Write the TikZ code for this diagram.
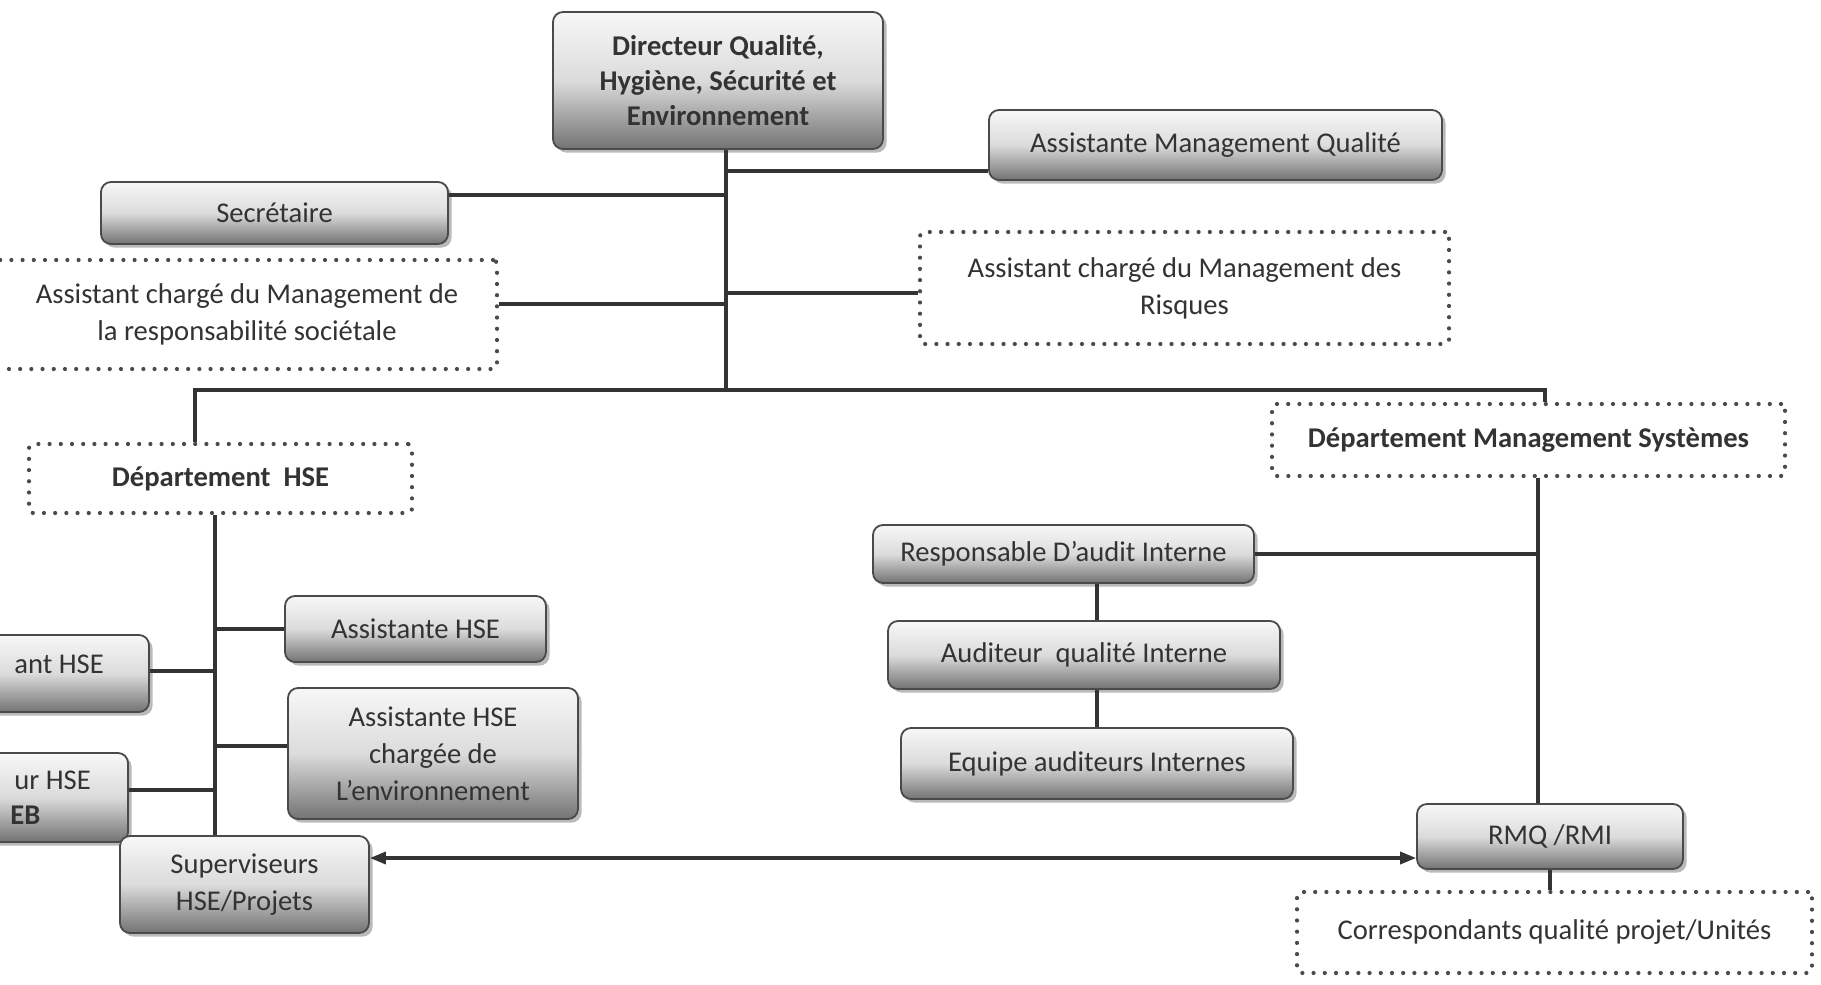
\documentclass[tikz,border=0pt]{standalone}
\usepackage{fontspec}
\setmainfont{Carlito}
\usetikzlibrary{shadows,arrows.meta}
\definecolor{ink}{HTML}{333333}
\definecolor{edge}{HTML}{4A4A4A}

\tikzset{
  every node/.style={font=\fontsize{14.3}{18.6}\selectfont, text=ink, align=center, inner sep=0pt},
  boldtext/.style={font=\fontsize{14.3}{17.7}\selectfont\bfseries},
  solidbox/.style={draw=edge, line width=0.9pt, rounded corners=5pt,
    top color=black!3, bottom color=black!55, middle color=black!14,
    drop shadow={shadow xshift=1.8pt, shadow yshift=-1.8pt, opacity=0.45, fill=black!60}},
  dotbox/.style={draw=edge, line width=2.1pt, dash pattern=on 0pt off 5.6pt,
    line cap=round, fill=white, rounded corners=2pt},
  wire/.style={draw=ink, line width=1.7pt},
  link/.style={wire, {Triangle[length=8pt,width=6pt]}-{Triangle[length=8pt,width=6pt]}}
}

\begin{document}
\begin{tikzpicture}[x=0.5pt,y=-0.5pt]
\useasboundingbox (0,0) rectangle (1821,985);
\clip (0,0) rectangle (1821,985);
\fill[white] (0,0) rectangle (1821,985);

% direction and staff
\node[solidbox, boldtext, minimum width=165pt, minimum height=68.5pt] (dir) at (718,80.5)
  {Directeur Qualité,\\Hygiène, Sécurité et\\Environnement};
\node[solidbox, minimum width=226.5pt, minimum height=35pt] (amq) at (1215.5,145)
  {Assistante Management Qualité};
\node[solidbox, minimum width=173.5pt, minimum height=31pt] (sec) at (274.5,213)
  {Secrétaire};
\node[dotbox, minimum width=253.5pt, minimum height=54.5pt] (ars) at (243.5,314.5) {};
\node (arsT) at (247,314) {Assistant chargé du Management de\\la responsabilité sociétale};
\node[dotbox, minimum width=264.5pt, minimum height=56pt] (amr) at (1184.5,288)
  {Assistant chargé du Management des\\Risques};

% departments
\node[dotbox, boldtext, minimum width=191.5pt, minimum height=34.5pt] (dhse) at (220.5,478.5)
  {Département\ \ HSE};
\node[dotbox, boldtext, minimum width=256.5pt, minimum height=36pt] (dms) at (1528.5,440)
  {Département Management Systèmes};

% HSE department
\node[solidbox, minimum width=130.5pt, minimum height=33pt] (ahse) at (415.5,629)
  {Assistante HSE};
\node[solidbox, minimum width=84.5pt, minimum height=38.5pt] (ant) at (64.5,673.5) {};
\node[anchor=west] (antT) at (14,664) {ant HSE};
\node[solidbox, minimum width=74pt, minimum height=44.5pt] (ing) at (54,797.5) {};
\node[anchor=west] (ingT) at (14,780) {ur HSE};
\node[anchor=west, boldtext] (ingB) at (10,815) {EB};
\node[solidbox, minimum width=145pt, minimum height=65.5pt] (ahsee) at (433,753.5)
  {Assistante HSE\\chargée de\\L’environnement};
\node[solidbox, minimum width=124.5pt, minimum height=48.5pt] (sup) at (244.5,884.5)
  {Superviseurs\\HSE/Projets};

% management systems department
\node[solidbox, minimum width=190.5pt, minimum height=29pt] (rai) at (1063.5,554)
  {Responsable D’audit Interne};
\node[solidbox, minimum width=196pt, minimum height=34pt] (aqi) at (1084,655)
  {Auditeur\ \ qualité Interne};
\node[solidbox, minimum width=196pt, minimum height=35.5pt] (eai) at (1097,763.5)
  {Equipe auditeurs Internes};
\node[solidbox, minimum width=133pt, minimum height=32.5pt] (rmq) at (1550,836.5)
  {RMQ /RMI};
\node[dotbox, minimum width=257.5pt, minimum height=40.5pt] (cqp) at (1554.5,932.5)
  {Correspondants qualité projet/Unités};

% trunk junctions
\coordinate (bus) at (726,390);
\coordinate (busL) at (195,390);
\coordinate (busR) at (1545,390);
\coordinate (jA) at (726,171);
\coordinate (jS) at (726,195);
\coordinate (jR) at (726,293);
\coordinate (jT) at (726,304);
\coordinate (hx) at (215,0);
\coordinate (rx) at (1538,0);
\coordinate (ax) at (1097,0);

% top level connectors
\draw[wire] (dir.south -| bus) -- (bus);
\draw[wire] (jA) -- (amq.west |- jA);
\draw[wire] (sec.east |- jS) -- (jS);
\draw[wire] (ars.east |- jT) -- (jT);
\draw[wire] (jR) -- (amr.west |- jR);
\draw[wire] (dhse.north -| busL) -- (busL) -- (busR) -- (dms.north -| busR);

% HSE department connectors
\draw[wire] (dhse.south -| hx) -- (sup.north -| hx);
\draw[wire] (ahse.west) -- (ahse.west -| hx);
\draw[wire] (ant.east |- 0,671) -- (hx |- 0,671);
\draw[wire] (ing.east |- 0,790) -- (hx |- 0,790);
\draw[wire] (ahsee.west |- 0,746) -- (hx |- 0,746);

% management systems connectors
\draw[wire] (dms.south -| rx) -- (rmq.north -| rx);
\draw[wire] (rai.east) -- (rai.east -| rx);
\draw[wire] (rai.south -| ax) -- (aqi.north -| ax);
\draw[wire] (aqi.south -| ax) -- (eai.north -| ax);
\draw[wire] (rmq.south) -- (cqp.north -| rmq.south);

% link between supervisors and RMQ
\draw[link] (sup.east |- 0,858) -- (rmq.west |- 0,858);
\end{tikzpicture}
\end{document}
